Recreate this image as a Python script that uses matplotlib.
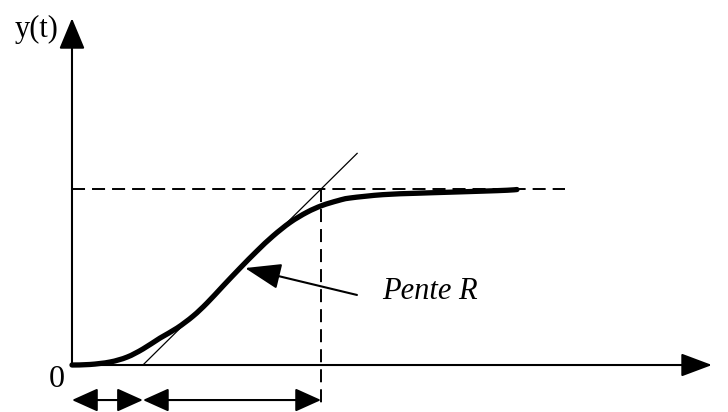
import numpy as np
import matplotlib
matplotlib.use("Agg")
from matplotlib import pyplot as plt
from matplotlib.path import Path
from matplotlib.patches import PathPatch

# step response y(t), normalised so the final value is 1
t = [0.0, 0.102, 0.216, 0.313, 0.403, 0.5, 0.597, 0.688, 0.767, 0.858,
     0.955, 1.051, 1.142, 1.239, 1.335, 1.42, 1.511, 1.58, 1.767, 1.96,
     2.148, 2.335, 2.472, 2.528]
y = [0.0, 0.003, 0.017, 0.045, 0.091, 0.153, 0.21, 0.278, 0.352, 0.449,
     0.551, 0.648, 0.733, 0.81, 0.868, 0.906, 0.934, 0.949, 0.968, 0.976,
     0.982, 0.988, 0.993, 0.997]

y_final = 1.0
t_delay = 0.403     # tangent meets the time axis
t_end = 1.415       # tangent reaches the final value
t_tan_top = 1.62
t_dash_end = 2.8
x_axis_end = 3.636
y_axis_end = 1.97


def smooth_path(xs, ys):
    # Catmull-Rom through the points, written as cubic Bezier segments
    p = np.column_stack([xs, ys])
    verts = [p[0]]
    codes = [Path.MOVETO]
    for i in range(len(p) - 1):
        p0 = p[i - 1] if i > 0 else p[i]
        p3 = p[i + 2] if i + 2 < len(p) else p[i + 1]
        c1 = p[i] + (p[i + 1] - p0) / 6
        c2 = p[i + 1] - (p3 - p[i]) / 6
        verts += [c1, c2, p[i + 1]]
        codes += [Path.CURVE4] * 3
    return Path(verts, codes)


plt.rcParams['font.family'] = ['Liberation Serif', 'DejaVu Serif']

fig = plt.figure(figsize=(7.28, 4.12), dpi=100)
ax = fig.add_axes([0, 0, 1, 1])
ax.set_xlim(-0.409, 3.727)
ax.set_ylim(-0.267, 2.074)
ax.axis('off')

# axes with arrow heads
ax.annotate('', xy=(x_axis_end, 0), xytext=(0, 0),
            arrowprops=dict(arrowstyle='-|>,head_length=1.2,head_width=0.45',
                            lw=1.5, color='black', mutation_scale=16,
                            shrinkA=0, shrinkB=0))
ax.annotate('', xy=(0, y_axis_end), xytext=(0, 0),
            arrowprops=dict(arrowstyle='-|>,head_length=1.2,head_width=0.5',
                            lw=1.5, color='black', mutation_scale=16,
                            shrinkA=0, shrinkB=0))

# final value and its time
ax.plot([0, t_dash_end], [y_final, y_final], color='black', lw=1.4,
        dashes=(6.7, 3.6))
ax.plot([t_end, t_end], [y_final, -0.227], color='black', lw=1.4,
        dashes=(6.7, 3.6))

# tangent at the inflection point
slope = y_final / (t_end - t_delay)
ax.plot([t_delay, t_tan_top], [0, slope * (t_tan_top - t_delay)],
        color='black', lw=0.9)

# response curve
ax.add_patch(PathPatch(smooth_path(t, y), fill=False, edgecolor='black',
                       lw=3.8, capstyle='round', joinstyle='round'))

# delay and time-constant spans
for a, b in [(0, t_delay), (t_delay, t_end)]:
    ax.annotate('', xy=(b, -0.199), xytext=(a, -0.199),
                arrowprops=dict(arrowstyle='<|-|>,head_length=1.0,head_width=0.45',
                                lw=1.5, color='black', mutation_scale=16,
                                shrinkA=0, shrinkB=0))

# slope label
ax.annotate('', xy=(0.983, 0.551), xytext=(1.619, 0.398),
            arrowprops=dict(arrowstyle='-|>,head_length=1.4,head_width=0.5',
                            lw=1.5, color='black', mutation_scale=16,
                            shrinkA=0, shrinkB=0))
ax.text(2.035, 0.42, 'Pente R', fontsize=22, style='italic',
        ha='center', va='center')

ax.text(-0.085, -0.085, '0', fontsize=23, ha='center', va='center')
ax.text(-0.199, 1.905, 'y(t)', fontsize=22, ha='center', va='center')

fig.savefig('out.png', dpi=100)
